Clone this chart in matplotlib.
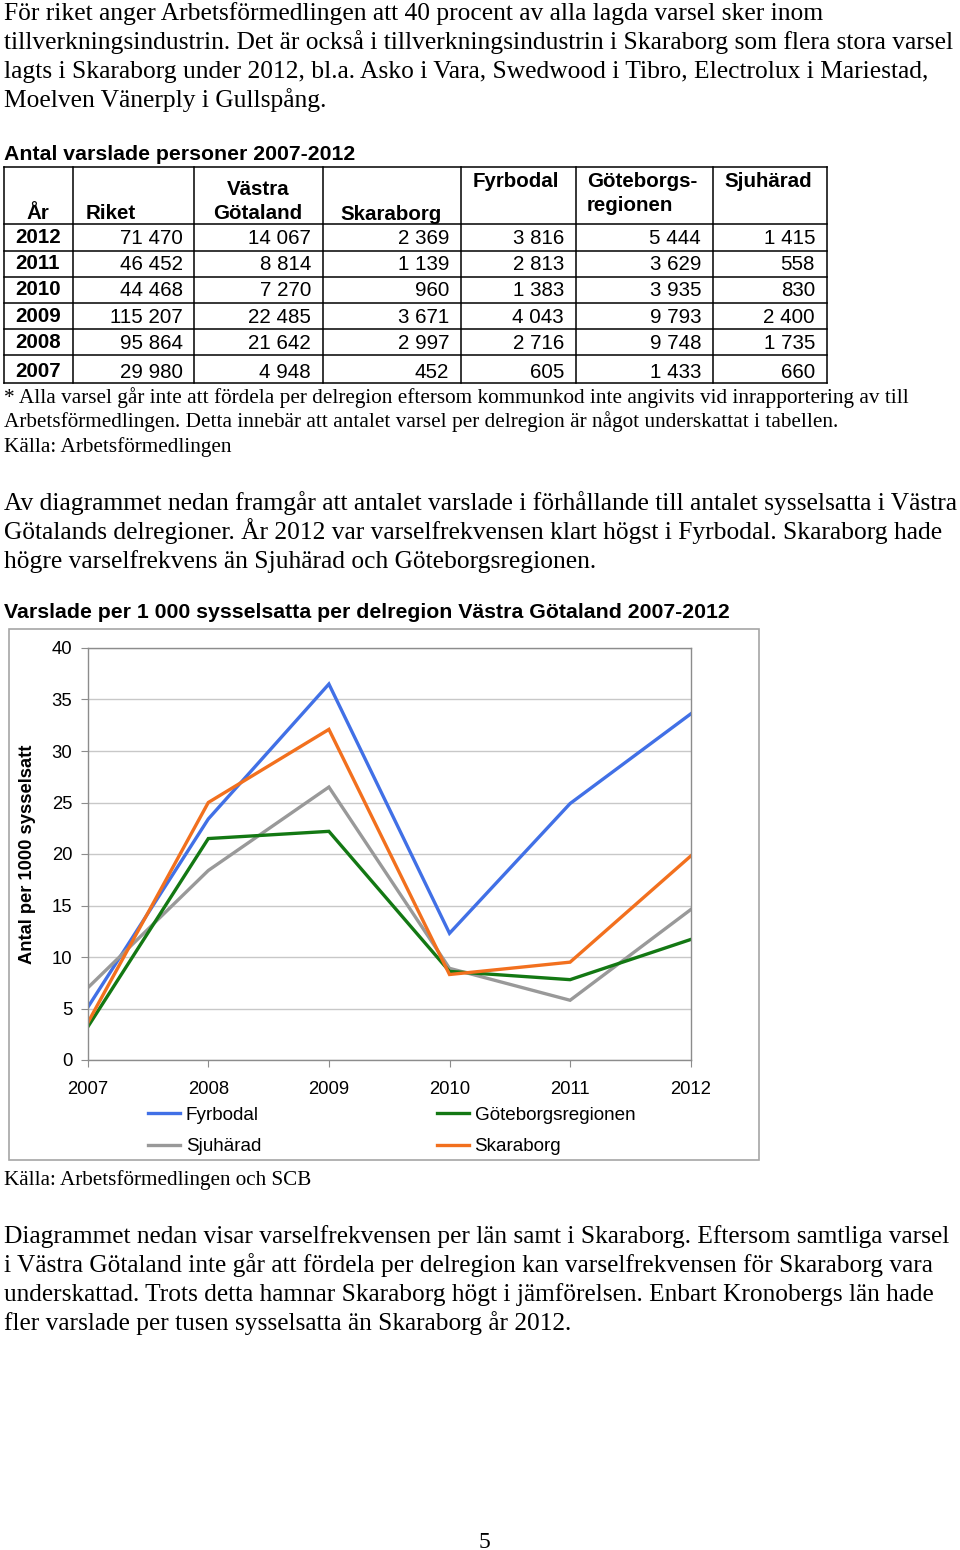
import matplotlib
matplotlib.use('Agg')
import matplotlib.pyplot as plt
from matplotlib.patches import Rectangle

# ---------------- data ----------------
years = [2007, 2008, 2009, 2010, 2011, 2012]
fyrbodal = [5.1, 23.4, 36.5, 12.3, 24.9, 33.6]
goteborg = [3.2, 21.5, 22.2, 8.6, 7.8, 11.7]
sjuharad = [7.0, 18.4, 26.5, 8.9, 5.8, 14.6]
skaraborg = [3.6, 25.0, 32.1, 8.3, 9.5, 19.8]
y_ticks = [0, 5, 10, 15, 20, 25, 30, 35, 40]

table_years = [2012, 2011, 2010, 2009, 2008, 2007]
t_riket = [71470, 46452, 44468, 115207, 95864, 29980]
t_vg = [14067, 8814, 7270, 22485, 21642, 4948]
t_skaraborg = [2369, 1139, 960, 3671, 2997, 452]
t_fyrbodal = [3816, 2813, 1383, 4043, 2716, 605]
t_goteborg = [5444, 3629, 3935, 9793, 9748, 1433]
t_sjuharad = [1415, 558, 830, 2400, 1735, 660]

para1 = ["För riket anger Arbetsförmedlingen att 40 procent av alla lagda varsel sker inom",
         "tillverkningsindustrin. Det är också i tillverkningsindustrin i Skaraborg som flera stora varsel",
         "lagts i Skaraborg under 2012, bl.a. Asko i Vara, Swedwood i Tibro, Electrolux i Mariestad,",
         "Moelven Vänerply i Gullspång."]
foot = ["* Alla varsel går inte att fördela per delregion eftersom kommunkod inte angivits vid inrapportering av till",
        "Arbetsförmedlingen. Detta innebär att antalet varsel per delregion är något underskattat i tabellen.",
        "Källa: Arbetsförmedlingen"]
para2 = ["Av diagrammet nedan framgår att antalet varslade i förhållande till antalet sysselsatta i Västra",
         "Götalands delregioner. År 2012 var varselfrekvensen klart högst i Fyrbodal. Skaraborg hade",
         "högre varselfrekvens än Sjuhärad och Göteborgsregionen."]
para3 = ["Diagrammet nedan visar varselfrekvensen per län samt i Skaraborg. Eftersom samtliga varsel",
         "i Västra Götaland inte går att fördela per delregion kan varselfrekvensen för Skaraborg vara",
         "underskattad. Trots detta hamnar Skaraborg högt i jämförelsen. Enbart Kronobergs län hade",
         "fler varslade per tusen sysselsatta än Skaraborg år 2012."]

SERIF = 'Liberation Serif'
SANS = 'Liberation Sans'

W, H = 960, 1550
fig = plt.figure(figsize=(9.6, 15.5), dpi=100)
page = fig.add_axes([0, 0, 1, 1])
page.set_xlim(0, W)
page.set_ylim(H, 0)
page.axis('off')
renderer = fig.canvas.get_renderer()


def block(lines, x, y0, dy, fit_width, fit_line=0, family=SERIF, weight='normal'):
    ts = [page.text(x, y0 + i * dy, s, family=family, weight=weight, fontsize=12,
                    va='baseline', ha='left', color='black') for i, s in enumerate(lines)]
    w = ts[fit_line].get_window_extent(renderer).width
    fs = 12 * fit_width / w
    for t in ts:
        t.set_fontsize(fs)
    return ts


block(para1, 4, 20, 29, 946, fit_line=1)
block(["Antal varslade personer 2007-2012"], 4, 160, 0, 348, family=SANS, weight='bold')
block(foot, 4, 403, 24.5, 901, fit_line=0)
block(para2, 4, 510, 29, 953, fit_line=0)
block(["Varslade per 1 000 sysselsatta per delregion Västra Götaland 2007-2012"], 4, 618, 0, 721,
      family=SANS, weight='bold')
block(["Källa: Arbetsförmedlingen och SCB"], 4, 1185, 0, 307)
block(para3, 4, 1243, 29, 948, fit_line=0)
page.text(484, 1548, "5", family=SERIF, fontsize=17, ha='center', va='baseline')

# ---------------- table ----------------
col_x = [4, 73, 194, 323, 461, 576, 713, 827]
row_y = [167, 224.3, 250.7, 276.7, 302.7, 329.3, 355.3, 382.7]
for x in col_x:
    page.plot([x, x], [row_y[0], row_y[-1]], color='black', lw=1.1)
for y in row_y:
    page.plot([col_x[0], col_x[-1]], [y, y], color='black', lw=1.1)

TFS = 14.8
hdr = dict(family=SANS, weight='bold', fontsize=TFS, va='baseline')
page.text(38, 219, "År", ha='center', **hdr)
page.text(86, 219, "Riket", ha='left', **hdr)
page.text(258, 195, "Västra", ha='center', **hdr)
page.text(258, 219, "Götaland", ha='center', **hdr)
page.text(340, 220, "Skaraborg", ha='left', **hdr)
page.text(473, 187, "Fyrbodal", ha='left', **hdr)
page.text(587, 187, "Göteborgs-", ha='left', **hdr)
page.text(587, 211, "regionen", ha='left', **hdr)
page.text(724, 187, "Sjuhärad", ha='left', **hdr)


def fmt(v):
    return f"{v:,}".replace(",", " ")


rights = [183, 311, 449, 564, 701, 815]
cols = [t_riket, t_vg, t_skaraborg, t_fyrbodal, t_goteborg, t_sjuharad]
base_y = [244, 270, 296, 323, 349, 378]
for i, yr in enumerate(table_years):
    page.text(38, base_y[i] - 1, str(yr), ha='center', va='baseline', family=SANS,
              weight='bold', fontsize=TFS)
    for j, col in enumerate(cols):
        page.text(rights[j], base_y[i], fmt(col[i]), ha='right', va='baseline',
                  family=SANS, fontsize=TFS)

# ---------------- chart ----------------
page.add_patch(Rectangle((9, 629), 750, 531, fill=False, edgecolor='#a6a6a6', lw=1.2))

ax = fig.add_axes([87.7 / W, (H - 1060) / H, 603 / W, 412 / H])
series = [("Fyrbodal", fyrbodal, '#4170E6'),
          ("Sjuhärad", sjuharad, '#999999'),
          ("Göteborgsregionen", goteborg, '#137813'),
          ("Skaraborg", skaraborg, '#F2701E')]
lines = {}
for name, vals, c in series:
    lines[name], = ax.plot(years, vals, color=c, lw=2.4, solid_joinstyle='miter', label=name)

ax.set_xlim(2007, 2012)
ax.set_ylim(0, 40)
ax.set_yticks(y_ticks)
ax.set_xticks(years)
ax.grid(axis='y', color='#c8c8c8', lw=1)
ax.set_axisbelow(True)
for s in ax.spines.values():
    s.set_color('#8c8c8c')
    s.set_linewidth(1)
ax.tick_params(axis='y', length=5, color='#8c8c8c', pad=6, labelsize=13.3)
ax.tick_params(axis='x', length=5, color='#8c8c8c', pad=10, labelsize=13.3)
for lab in ax.get_xticklabels() + ax.get_yticklabels():
    lab.set_family(SANS)
ax.set_ylabel("Antal per 1000 sysselsatt", family=SANS, weight='bold', fontsize=13.2)
ax.yaxis.set_label_coords(-(87.7 - 36) / 603, 0.5)

leg = fig.legend(handles=[lines["Fyrbodal"], lines["Sjuhärad"], lines["Göteborgsregionen"], lines["Skaraborg"]],
                 ncol=2, loc='upper left', bbox_to_anchor=(148 / W, 1 - 1106.5 / H),
                 frameon=False, prop={'family': SANS, 'size': 13.6}, handlelength=1.7,
                 handletextpad=0.3, columnspacing=9.3, labelspacing=0.75,
                 borderpad=0, borderaxespad=0)

fig.savefig('out.png', dpi=100)
